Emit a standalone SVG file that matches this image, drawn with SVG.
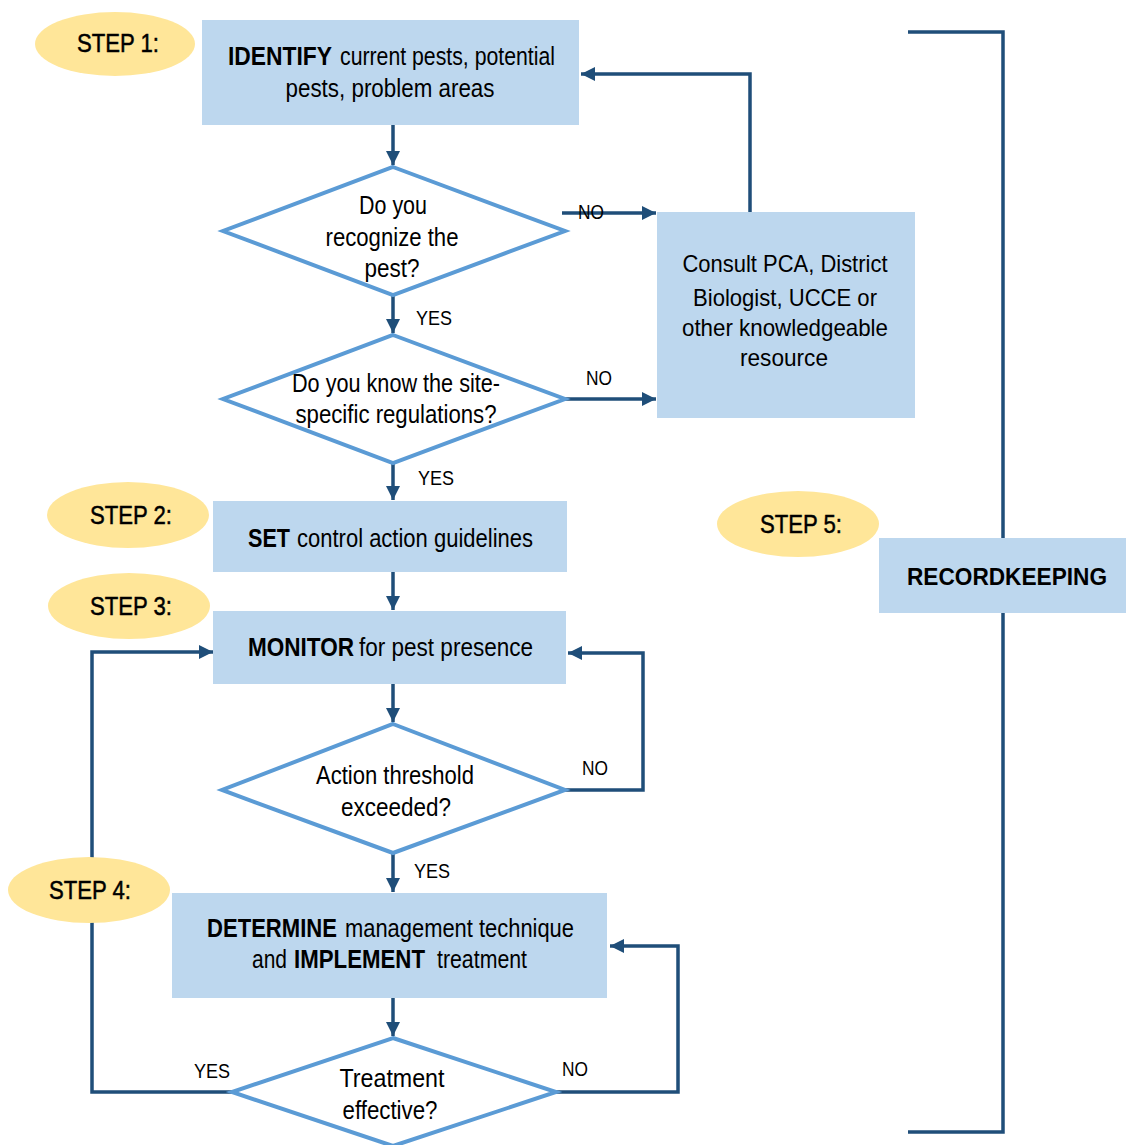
<svg xmlns="http://www.w3.org/2000/svg" width="1126" height="1145" viewBox="0 0 1126 1145">
<style>
.box{fill:#BDD7EE;}
.step{fill:#FFE699;}
.dia{fill:#FFFFFF;stroke:#5B9BD5;stroke-width:4;}
.ln{fill:none;stroke:#1F4E79;stroke-width:3.5;}
.t{font-family:"Liberation Sans",Arial,sans-serif;font-size:26px;fill:#000;text-anchor:middle;}
.s{font-family:"Liberation Sans",Arial,sans-serif;font-size:26px;fill:#000;text-anchor:start;}
.b{font-weight:bold;}
.lab{font-family:"Liberation Sans",Arial,sans-serif;font-size:20px;fill:#000;text-anchor:middle;}
.st{font-family:"Liberation Sans",Arial,sans-serif;font-size:26px;fill:#000;stroke:#000;stroke-width:0.5;text-anchor:middle;}
.cs{font-family:"Liberation Sans",Arial,sans-serif;font-size:24px;fill:#000;text-anchor:middle;}
</style>
<defs>
<marker id="ah" viewBox="0 0 10 10" refX="10" refY="5" markerWidth="4" markerHeight="4" orient="auto" markerUnits="strokeWidth">
<path d="M0,0 L10,5 L0,10 z" fill="#1F4E79"/>
</marker>
</defs>
<rect width="1126" height="1145" fill="#FFFFFF"/>

<g id="connectors">
<path class="ln" d="M393,125 V165" marker-end="url(#ah)"/>
<path class="ln" d="M562,213 H656" marker-end="url(#ah)"/>
<path class="ln" d="M750,212 V74 H581" marker-end="url(#ah)"/>
<path class="ln" d="M393,295 V333" marker-end="url(#ah)"/>
<path class="ln" d="M565,399 H656" marker-end="url(#ah)"/>
<path class="ln" d="M393,463 V500" marker-end="url(#ah)"/>
<path class="ln" d="M393,572 V610" marker-end="url(#ah)"/>
<path class="ln" d="M393,684 V722" marker-end="url(#ah)"/>
<path class="ln" d="M565,790 H643 V653 H568" marker-end="url(#ah)"/>
<path class="ln" d="M393,853 V892" marker-end="url(#ah)"/>
<path class="ln" d="M393,998 V1036" marker-end="url(#ah)"/>
<path class="ln" d="M556,1092 H678 V946 H610" marker-end="url(#ah)"/>
<path class="ln" d="M232,1092 H92 V652 H213" marker-end="url(#ah)"/>
<path class="ln" d="M908,32 H1003 V1132 H908"/>
<text class="lab" x="591" y="219" textLength="26" lengthAdjust="spacingAndGlyphs">NO</text>
<text class="lab" x="434" y="325" textLength="36" lengthAdjust="spacingAndGlyphs">YES</text>
<text class="lab" x="599" y="385" textLength="26" lengthAdjust="spacingAndGlyphs">NO</text>
<text class="lab" x="436" y="485" textLength="36" lengthAdjust="spacingAndGlyphs">YES</text>
<text class="lab" x="595" y="775" textLength="26" lengthAdjust="spacingAndGlyphs">NO</text>
<text class="lab" x="432" y="878" textLength="36" lengthAdjust="spacingAndGlyphs">YES</text>
<text class="lab" x="575" y="1076" textLength="26" lengthAdjust="spacingAndGlyphs">NO</text>
<text class="lab" x="212" y="1078" textLength="36" lengthAdjust="spacingAndGlyphs">YES</text>
</g>

<g id="step1">
<ellipse class="step" cx="115" cy="44" rx="80" ry="32"/>
<text class="st" x="118" y="52" textLength="82" lengthAdjust="spacingAndGlyphs">STEP 1:</text>
</g>
<g id="identify">
<rect class="box" x="202" y="20" width="377" height="105"/>
<text class="s b" x="228" y="65" textLength="104" lengthAdjust="spacingAndGlyphs">IDENTIFY</text>
<text class="s" x="340" y="65" textLength="215" lengthAdjust="spacingAndGlyphs">current pests, potential</text>
<text class="t" x="390" y="97" textLength="209" lengthAdjust="spacingAndGlyphs">pests, problem areas</text>
</g>
<g id="recognize">
<polygon class="dia" points="393,167 565,231 393,295 223,231"/>
<text class="t" x="393" y="214" textLength="68" lengthAdjust="spacingAndGlyphs">Do you</text>
<text class="t" x="392" y="246" textLength="133" lengthAdjust="spacingAndGlyphs">recognize the</text>
<text class="t" x="392" y="277" textLength="55" lengthAdjust="spacingAndGlyphs">pest?</text>
</g>
<g id="regulations">
<polygon class="dia" points="393,335 565,399 393,463 223,399"/>
<text class="t" x="396" y="392" textLength="208" lengthAdjust="spacingAndGlyphs">Do you know the site-</text>
<text class="t" x="396" y="423" textLength="201" lengthAdjust="spacingAndGlyphs">specific regulations?</text>
</g>
<g id="consult">
<rect class="box" x="657" y="212" width="258" height="206"/>
<text class="cs" x="785" y="272" textLength="205" lengthAdjust="spacingAndGlyphs">Consult PCA, District</text>
<text class="cs" x="785" y="306" textLength="184" lengthAdjust="spacingAndGlyphs">Biologist, UCCE or</text>
<text class="cs" x="785" y="336" textLength="206" lengthAdjust="spacingAndGlyphs">other knowledgeable</text>
<text class="cs" x="784" y="366" textLength="88" lengthAdjust="spacingAndGlyphs">resource</text>
</g>
<g id="step2">
<ellipse class="step" cx="128" cy="515" rx="81" ry="33"/>
<text class="st" x="131" y="524" textLength="82" lengthAdjust="spacingAndGlyphs">STEP 2:</text>
</g>
<g id="set">
<rect class="box" x="213" y="501" width="354" height="71"/>
<text class="s b" x="248" y="547" textLength="42" lengthAdjust="spacingAndGlyphs">SET</text>
<text class="s" x="297" y="547" textLength="236" lengthAdjust="spacingAndGlyphs">control action guidelines</text>
</g>
<g id="step3">
<ellipse class="step" cx="129" cy="606" rx="81" ry="33"/>
<text class="st" x="131" y="615" textLength="82" lengthAdjust="spacingAndGlyphs">STEP 3:</text>
</g>
<g id="monitor">
<rect class="box" x="213" y="611" width="353" height="73"/>
<text class="s b" x="248" y="656" textLength="106" lengthAdjust="spacingAndGlyphs">MONITOR</text>
<text class="s" x="359" y="656" textLength="174" lengthAdjust="spacingAndGlyphs">for pest presence</text>
</g>
<g id="threshold">
<polygon class="dia" points="393,724 565,790 393,853 222,790"/>
<text class="t" x="395" y="784" textLength="158" lengthAdjust="spacingAndGlyphs">Action threshold</text>
<text class="t" x="396" y="816" textLength="110" lengthAdjust="spacingAndGlyphs">exceeded?</text>
</g>
<g id="step4">
<ellipse class="step" cx="89" cy="890" rx="81" ry="33"/>
<text class="st" x="90" y="899" textLength="82" lengthAdjust="spacingAndGlyphs">STEP 4:</text>
</g>
<g id="determine">
<rect class="box" x="172" y="893" width="435" height="105"/>
<text class="s b" x="207" y="937" textLength="130" lengthAdjust="spacingAndGlyphs">DETERMINE</text>
<text class="s" x="345" y="937" textLength="229" lengthAdjust="spacingAndGlyphs">management technique</text>
<text class="s" x="252" y="968" textLength="35" lengthAdjust="spacingAndGlyphs">and</text>
<text class="s b" x="294" y="968" textLength="131" lengthAdjust="spacingAndGlyphs">IMPLEMENT</text>
<text class="s" x="437" y="968" textLength="90" lengthAdjust="spacingAndGlyphs">treatment</text>
</g>
<g id="effective">
<polygon class="dia" points="393,1038 556,1092 393,1146 232,1092"/>
<text class="t" x="392" y="1087" textLength="105" lengthAdjust="spacingAndGlyphs">Treatment</text>
<text class="t" x="390" y="1119" textLength="95" lengthAdjust="spacingAndGlyphs">effective?</text>
</g>
<g id="step5">
<ellipse class="step" cx="798" cy="524" rx="81" ry="33"/>
<text class="st" x="801" y="533" textLength="82" lengthAdjust="spacingAndGlyphs">STEP 5:</text>
</g>
<g id="recordkeeping">
<rect class="box" x="879" y="538" width="247" height="75"/>
<text class="cs" x="1007" y="585" style="font-weight:bold;font-size:24px" textLength="200" lengthAdjust="spacingAndGlyphs">RECORDKEEPING</text>
</g>
</svg>
